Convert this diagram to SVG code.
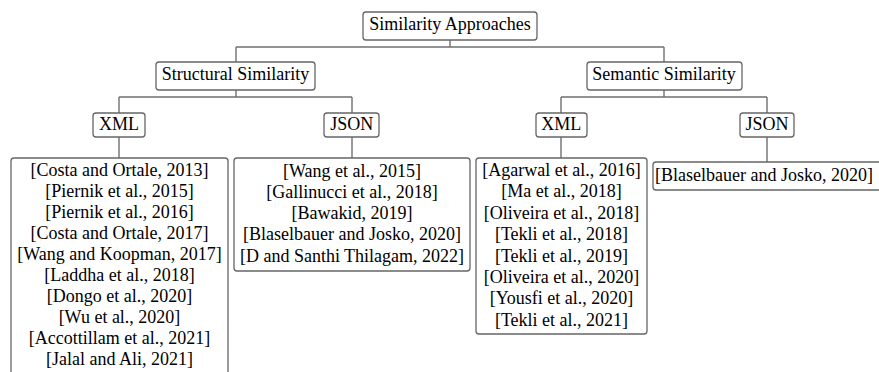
<svg xmlns="http://www.w3.org/2000/svg" width="879" height="372" viewBox="0 0 879 372">
<style>
.box{fill:#fff;stroke:#666;stroke-width:1.3}
.t{font-family:"Liberation Serif","Times New Roman",serif;font-size:18px;fill:#000;text-anchor:middle}
.c{fill:none;stroke:#707070;stroke-width:1.4}
</style>
<rect width="879" height="372" fill="#fff"/>
<g id="connectors">
<path class="c" d="M450,40V47M236,47H664M236,47V62M664,47V62"/>
<path class="c" d="M236,90V97M119,97H352M119,97V113M352,97V113"/>
<path class="c" d="M664,90V97M561,97H767M561,97V113M767,97V113"/>
<path class="c" d="M119,137V158M352,137V158M561,137V158M767,137V162"/>
</g>
<g id="root"><rect class="box" x="363" y="12" width="174" height="28" rx="3"/><text class="t" x="450" y="30">Similarity Approaches</text></g>
<g id="structural"><rect class="box" x="156" y="62" width="159" height="28" rx="3"/><text class="t" x="235.5" y="80">Structural Similarity</text></g>
<g id="semantic"><rect class="box" x="587" y="62" width="155" height="28" rx="3"/><text class="t" x="664" y="80">Semantic Similarity</text></g>
<g id="struct-xml"><rect class="box" x="93" y="113" width="52" height="24" rx="3"/><text class="t" x="119" y="130">XML</text></g>
<g id="struct-json"><rect class="box" x="324" y="113" width="55" height="24" rx="3"/><text class="t" x="351.7" y="130">JSON</text></g>
<g id="sem-xml"><rect class="box" x="536" y="113" width="51" height="24" rx="3"/><text class="t" x="561.3" y="130">XML</text></g>
<g id="sem-json"><rect class="box" x="740" y="113" width="54" height="24" rx="3"/><text class="t" x="767" y="130">JSON</text></g>
<g id="struct-xml-list"><rect class="box" x="11" y="158" width="217" height="230" rx="3"/>
<text class="t" x="119.5" y="176">[Costa and Ortale, 2013]</text>
<text class="t" x="119.5" y="197">[Piernik et al., 2015]</text>
<text class="t" x="119.5" y="218">[Piernik et al., 2016]</text>
<text class="t" x="119.5" y="239">[Costa and Ortale, 2017]</text>
<text class="t" x="119.5" y="260">[Wang and Koopman, 2017]</text>
<text class="t" x="119.5" y="281">[Laddha et al., 2018]</text>
<text class="t" x="119.5" y="302">[Dongo et al., 2020]</text>
<text class="t" x="119.5" y="323">[Wu et al., 2020]</text>
<text class="t" x="119.5" y="344">[Accottillam et al., 2021]</text>
<text class="t" x="119.5" y="365">[Jalal and Ali, 2021]</text>
</g>
<g id="struct-json-list"><rect class="box" x="234" y="158" width="236" height="113" rx="3"/>
<text class="t" x="352" y="176.7">[Wang et al., 2015]</text>
<text class="t" x="352" y="197.9">[Gallinucci et al., 2018]</text>
<text class="t" x="352" y="219.2">[Bawakid, 2019]</text>
<text class="t" x="352" y="240.4">[Blaselbauer and Josko, 2020]</text>
<text class="t" x="352" y="261.7">[D and Santhi Thilagam, 2022]</text>
</g>
<g id="sem-xml-list"><rect class="box" x="476" y="158" width="171" height="176" rx="3"/>
<text class="t" x="561.5" y="176">[Agarwal et al., 2016]</text>
<text class="t" x="561.5" y="197.4">[Ma et al., 2018]</text>
<text class="t" x="561.5" y="218.8">[Oliveira et al., 2018]</text>
<text class="t" x="561.5" y="240.2">[Tekli et al., 2018]</text>
<text class="t" x="561.5" y="261.6">[Tekli et al., 2019]</text>
<text class="t" x="561.5" y="283">[Oliveira et al., 2020]</text>
<text class="t" x="561.5" y="304.4">[Yousfi et al., 2020]</text>
<text class="t" x="561.5" y="325.8">[Tekli et al., 2021]</text>
</g>
<g id="sem-json-list"><rect class="box" x="653" y="162" width="230" height="28" rx="3"/>
<text class="t" x="764" y="180.7">[Blaselbauer and Josko, 2020]</text>
</g>
</svg>
